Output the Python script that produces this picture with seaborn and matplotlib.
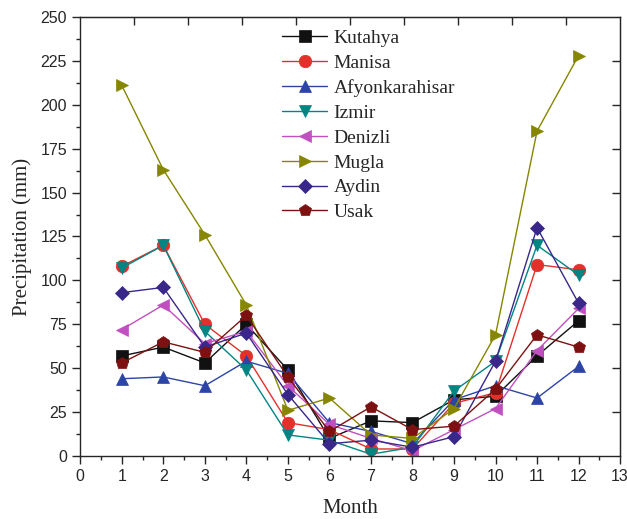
import numpy as np
import pandas as pd
import seaborn as sns
import matplotlib
matplotlib.use('Agg')
import matplotlib.pyplot as plt
from matplotlib.ticker import MultipleLocator

# Данные: осадки по месяцам (мм)
months = [1, 2, 3, 4, 5, 6, 7, 8, 9, 10, 11, 12]
cities = ['Kutahya', 'Manisa', 'Afyonkarahisar', 'Izmir', 'Denizli', 'Mugla', 'Aydin', 'Usak']
kutahya = [57, 62, 53, 75, 49, 10, 20, 19, 32, 34, 57, 77]
manisa = [108, 120, 75, 57, 19, 15, 4, 4, 30, 36, 109, 106]
afyon = [44, 45, 40, 54, 47, 19, 14, 7, 32, 40, 33, 51]
izmir = [107, 120, 71, 49, 12, 9, 1, 5, 37, 54, 120, 103]
denizli = [72, 86, 64, 71, 40, 18, 10, 3, 15, 27, 60, 84]
mugla = [211, 163, 126, 86, 26, 33, 12, 10, 27, 69, 185, 228]
aydin = [93, 96, 62, 70, 35, 7, 9, 5, 11, 54, 130, 87]
usak = [53, 65, 59, 80, 45, 14, 28, 15, 17, 38, 69, 62]
values = [kutahya, manisa, afyon, izmir, denizli, mugla, aydin, usak]

colors = ['#111111', '#e3302a', '#2c44a6', '#008583', '#c04fc0', '#868600', '#39278a', '#7d1111']
markers = ['s', 'o', '^', 'v', '<', '>', 'D', 'p']

sns.set_style('ticks')
plt.rcParams['font.family'] = ['Liberation Sans', 'DejaVu Sans']

fig = plt.figure(figsize=(6.27, 5.19), dpi=100)
ax = fig.add_axes([0.128, 0.1214, 0.861, 0.846])

for city, vals, c, m in zip(cities, values, colors, markers):
    ms = 7.5 if m == 'D' else 9
    sns.lineplot(x=months, y=vals, ax=ax, color=c, marker=m, markersize=ms,
                 markeredgecolor=c, markeredgewidth=0.5, linewidth=1, label=city)

ax.set_xlim(0, 13)
ax.set_ylim(0, 250)
ax.xaxis.set_major_locator(MultipleLocator(1))
ax.xaxis.set_minor_locator(MultipleLocator(0.5))
ax.yaxis.set_major_locator(MultipleLocator(25))
ax.yaxis.set_minor_locator(MultipleLocator(12.5))
ax.tick_params(which='major', length=6, width=1, labelsize=11.5, direction='out')
ax.tick_params(which='minor', length=3, width=1, direction='out')
for s in ax.spines.values():
    s.set_linewidth(1)
    s.set_visible(True)

# верхняя и правая оси с внутренними делениями (как в Origin)
top = ax.secondary_xaxis('top')
top.set_xticks([1.3 * k for k in range(1, 10)])
top.tick_params(direction='in', length=6, width=1, labeltop=False)
right = ax.secondary_yaxis('right')
right.set_yticks(np.arange(25, 250, 25))
right.tick_params(direction='in', length=6, width=1, labelright=False)

ax.set_xlabel('Month', family='Liberation Serif', fontsize=15, labelpad=11)
ax.set_ylabel('Precipitation (mm)', family='Liberation Serif', fontsize=15, labelpad=6)

ax.legend(loc='upper left', bbox_to_anchor=(0.374, 0.971), frameon=False,
          prop={'family': 'Liberation Serif', 'size': 14}, handlelength=2.3,
          handletextpad=0.35, labelspacing=0.37, borderaxespad=0, borderpad=0)

plt.savefig('out.png', dpi=100)
